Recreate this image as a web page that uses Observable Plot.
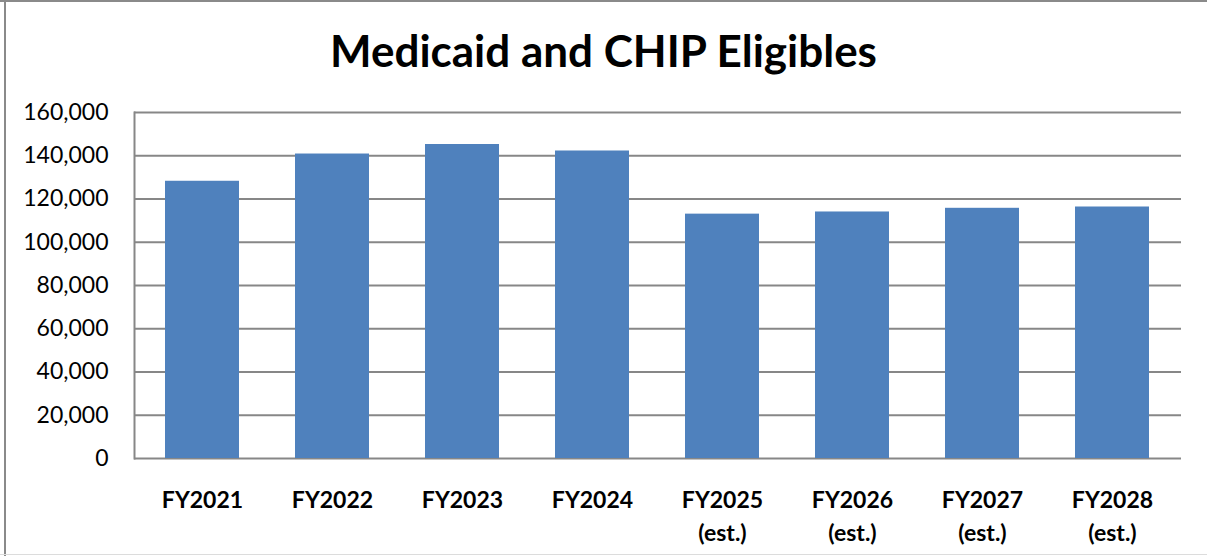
<!DOCTYPE html>
<html>
<head>
<meta charset="utf-8">
<script src="https://cdn.jsdelivr.net/npm/d3@7"></script>
<script src="https://cdn.jsdelivr.net/npm/@observablehq/plot@0.6"></script>
<style>
  html, body { margin: 0; padding: 0; background: #fff; }
  #wrap { position: relative; width: 1207px; height: 556px; overflow: hidden; background: #fff; }
  .bt { position: absolute; left: 0; top: 0; width: 1207px; height: 2px; background: #8a8a8a; }
  .bl { position: absolute; left: 4px; top: 0; width: 2px; height: 556px; background: #8a8a8a; }
  .bb { position: absolute; left: 0; top: 554px; width: 1207px; height: 1px; background: #dcdcdc; }
  #title { position: absolute; left: 0; top: 24px; width: 1207px; text-align: center;
           font-family: Lato, "Open Sans", sans-serif; font-weight: bold; font-size: 44px; color: #000; }
  #chart { position: absolute; left: 0; top: 90px; }
</style>
</head>
<body>
<div id="wrap">
  <div class="bt"></div><div class="bl"></div><div class="bb"></div>
  <div id="title">Medicaid and CHIP Eligibles</div>
  <div id="chart"></div>
</div>
<script>
const categories = ["FY2021", "FY2022", "FY2023", "FY2024", "FY2025", "FY2026", "FY2027", "FY2028"];
const categoryLabels = ["FY2021", "FY2022", "FY2023", "FY2024", "FY2025\n(est.)", "FY2026\n(est.)", "FY2027\n(est.)", "FY2028\n(est.)"];
const eligibles = [128200, 140800, 145200, 142200, 113000, 114000, 115700, 116300];
const yTicks = [0, 20000, 40000, 60000, 80000, 100000, 120000, 140000, 160000];

const data = categories.map((c, i) => ({year: c, value: eligibles[i]}));
const labelOf = new Map(categories.map((c, i) => [c, categoryLabels[i]]));

const chart = Plot.plot({
  width: 1207,
  height: 463,
  marginTop: 22,
  marginBottom: 95,
  marginLeft: 134,
  marginRight: 26,
  style: {fontFamily: "Lato, 'Open Sans', sans-serif", background: "transparent", color: "#000"},
  x: {type: "band", domain: categories, paddingInner: 0.43, paddingOuter: 0.215},
  y: {domain: [0, 160000]},
  marks: [
    Plot.ruleY(yTicks, {stroke: "#878787", strokeWidth: 2}),
    Plot.barY(data, {x: "year", y: "value", fill: "#4f81bd"}),
    Plot.frame({anchor: "left", stroke: "#878787", strokeWidth: 2}),
    Plot.axisY({ticks: yTicks, tickSize: 0, tickPadding: 26, tickFormat: d3.format(","),
                fontSize: 23, fill: "#000", label: null}),
    Plot.axisX({tickSize: 0, tickPadding: 26, tickFormat: d => labelOf.get(d),
                fontSize: 23, fontWeight: "bold", lineHeight: 1.44, fill: "#000", label: null})
  ]
});
document.getElementById("chart").appendChild(chart);
</script>
</body>
</html>
